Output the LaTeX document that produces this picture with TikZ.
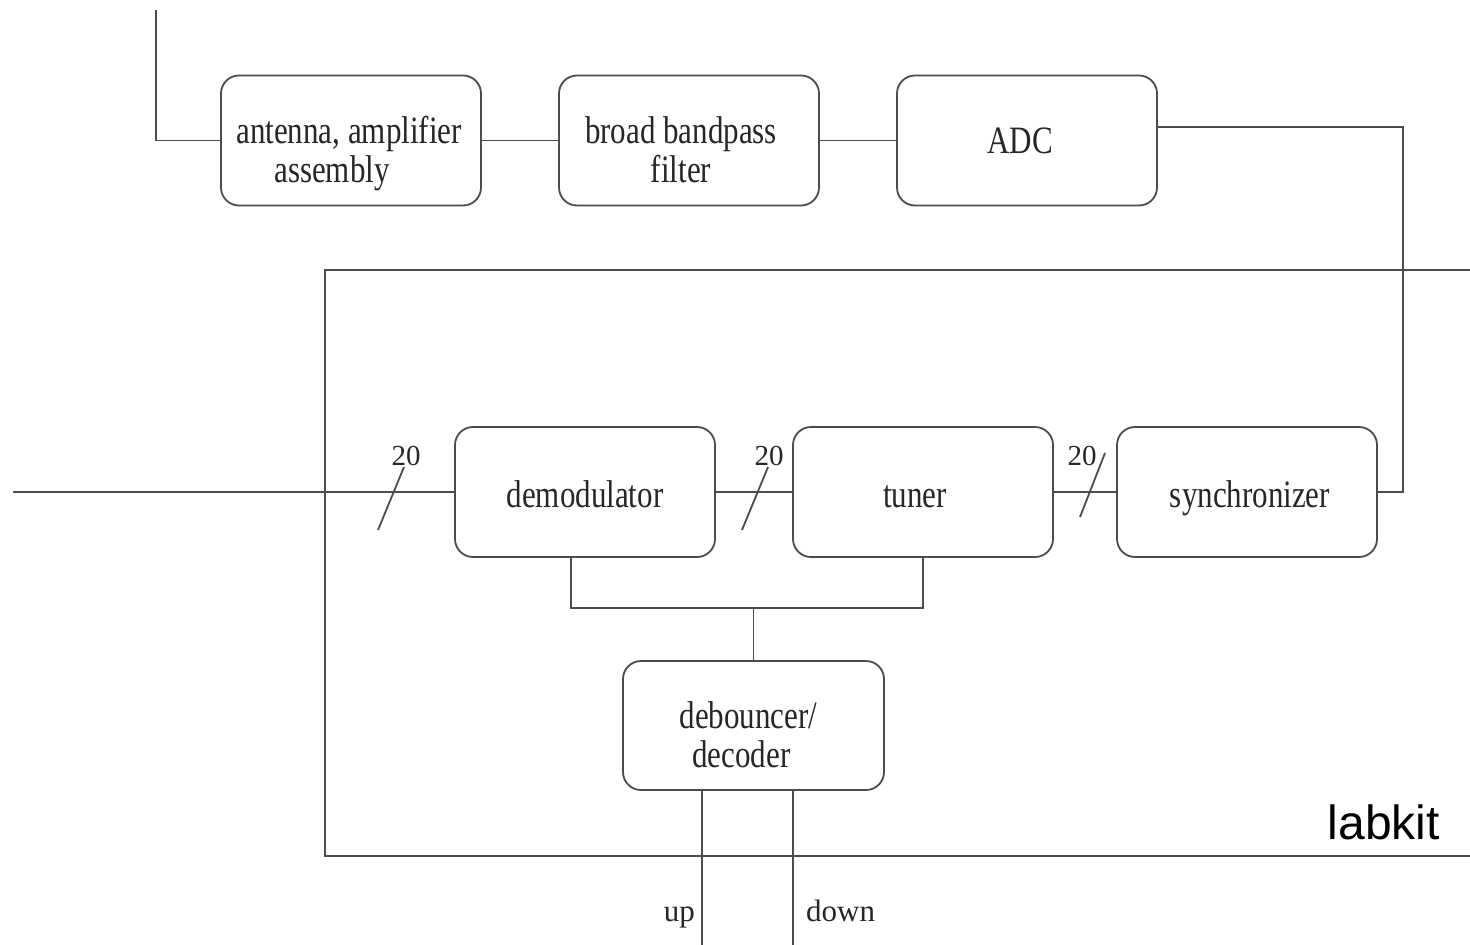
\documentclass[tikz,border=0pt]{standalone}
\usepackage{graphicx}
\usepackage{fontspec}
\setmainfont{Liberation Serif}
\newfontfamily\labfont{Liberation Sans}
% #1 horizontal shift (twice the wanted offset), #2 vertical raise, #3 text
\newcommand\boxtxt[3]{\raisebox{#2}[\height][\depth]{\hspace*{#1}\scalebox{1}[1.25]{\begin{tabular}{@{}c@{}}#3\end{tabular}}}}
\begin{document}
\begin{tikzpicture}[x=1pt,y=-1pt,
  wire/.style={draw=black!70,line width=1.8pt},
  blk/.style={draw=black!70,line width=1.8pt,rounded corners=18pt,rectangle,
    minimum width=260pt,minimum height=130pt,align=center,text=black!85,
    font=\fontsize{31}{31}\selectfont,inner sep=0pt},
  lbl/.style={text=black!85,font=\fontsize{29}{34}\selectfont,inner sep=0pt}]
\useasboundingbox (0,0) rectangle (1470,945);
\fill[white] (0,0) rectangle (1470,945);
% labkit frame
\draw[wire] (1470,270) -- (325,270) -- (325,856) -- (1470,856);
\node[font=\labfont\fontsize{48}{56}\selectfont,anchor=east,inner sep=0pt] (labkit) at (1440,822) {labkit};
% blocks
\node[blk] (ant) at (351,140.5) {\boxtxt{-4pt}{-15pt}{antenna, amplifier\\\hspace*{-34pt}assembly}};
\node[blk] (bbf) at (689,140.5) {\boxtxt{-16pt}{-15pt}{broad bandpass\\filter}};
\node[blk] (adc) at (1027,140.5) {\boxtxt{-14pt}{-5pt}{ADC}};
\node[blk] (demod) at (585,492) {\boxtxt{0pt}{-8pt}{demodulator}};
\node[blk] (tuner) at (923,492) {\boxtxt{-16pt}{-8pt}{tuner}};
\node[blk] (sync) at (1247,492) {\boxtxt{6pt}{-8pt}{synchronizer}};
\node[blk,minimum width=261pt,minimum height=129pt] (deb) at (753.5,725.5) {\boxtxt{-24pt}{-15pt}{\hspace*{14pt}debouncer/\\decoder}};
% top chain
\coordinate (antin) at (156,10);
\draw[wire] (antin) |- (ant.west);
\draw[wire] (ant) -- (bbf);
\draw[wire] (bbf) -- (adc);
\coordinate (turn) at (1403,492);
\draw[wire] ([yshift=13.5pt]adc.east) -| (turn) -- (sync.east);
% main chain
\coordinate (in) at (13,492);
\draw[wire] (in) -- (demod.west);
\draw[wire] (demod) -- (tuner);
\draw[wire] (tuner) -- (sync);
% bus slashes
\draw[wire] (378,530) -- (404,467);
\draw[wire] (742,530) -- (768,467);
\draw[wire] (1080,517) -- (1105,453);
\node[lbl] (n1) at (406,456) {20};
\node[lbl] (n2) at (769,456) {20};
\node[lbl] (n3) at (1082,456) {20};
% to debouncer
\coordinate (j) at (753.5,608);
\draw[wire] ([xshift=-14pt]demod.south) |- (j) -| (tuner.south);
\draw[wire] (j) -- (deb.north);
% outputs
\coordinate (upend) at (702,945);
\coordinate (downend) at (793,945);
\draw[wire] (upend |- deb.south) -- (upend);
\draw[wire] (downend |- deb.south) -- (downend);
\node[lbl,font=\fontsize{31}{34}\selectfont,anchor=base east] (uplbl) at (695,921) {up};
\node[lbl,font=\fontsize{31}{34}\selectfont,anchor=base west] (downlbl) at (806,921) {down};
\end{tikzpicture}
\end{document}
